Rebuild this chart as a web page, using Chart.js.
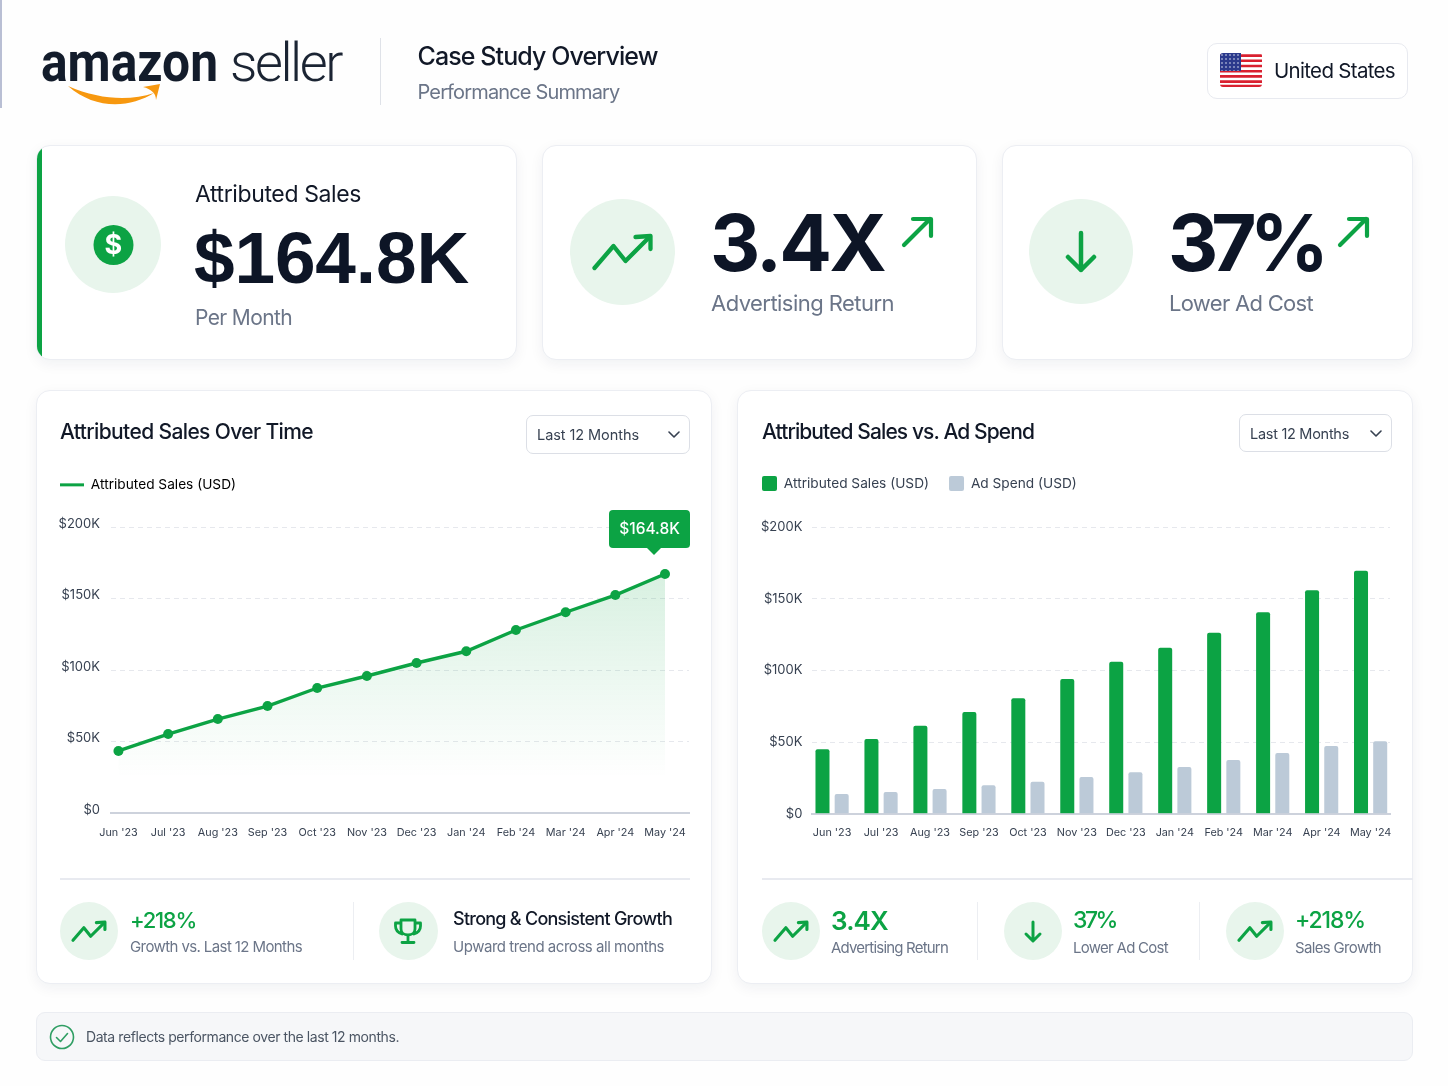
<!DOCTYPE html>
<html><head><meta charset="utf-8">
<script src="https://cdn.jsdelivr.net/npm/chart.js@4/dist/chart.umd.min.js"></script>
<style>
html,body{margin:0;padding:0;background:#fefefe}
#page{position:relative;width:1448px;height:1086px;overflow:hidden;background:#fefefe;font-family:Inter,sans-serif}
.t{position:absolute;white-space:nowrap;line-height:1.2;transform:translateY(-50%)}
.card{position:absolute;box-sizing:border-box;background:#fff;border:1px solid #eceef3;border-radius:14px;box-shadow:0 4px 14px rgba(25,35,70,.06)}
.c{position:absolute;border-radius:50%;background:#e8f5ec}
.r{position:absolute;background:#e8eaf0}
canvas{position:absolute}
svg{position:absolute;left:0;top:0;pointer-events:none}
</style></head><body><div id="page">
<div class="r" style="left:0;top:0;width:1.5px;height:108px;background:#b9bfd4"></div>
<div class="r" style="left:379.5px;top:38px;width:1.5px;height:67px;background:#dfe2e8"></div>
<div class="card" style="left:1206.500px;top:42.500px;width:201.500px;height:56.500px;border-radius:10px;box-shadow:none;border-color:#e8eaf0"></div>

<div class="card" style="left:35.500px;top:144.500px;width:481px;height:215.500px;overflow:hidden"><div style="position:absolute;left:-1px;top:-1px;width:6px;height:218px;background:#0ca344"></div></div>
<div class="card" style="left:541.500px;top:144.500px;width:435px;height:215.500px"></div>
<div class="card" style="left:1001.500px;top:144.500px;width:411.500px;height:215.500px"></div>
<div class="c" style="left:65px;top:196px;width:96px;height:97px"></div>
<div class="c" style="left:570px;top:199px;width:105px;height:106px"></div>
<div class="c" style="left:1029px;top:199px;width:104px;height:105px"></div>

<div class="card" style="left:35.500px;top:389.500px;width:676px;height:594.500px"></div>
<div class="card" style="left:736.500px;top:389.500px;width:676.500px;height:594.500px"></div>
<div class="card" style="left:526px;top:415px;width:164px;height:39px;border-radius:7px;box-shadow:none;border-color:#dcdfe6"></div>
<div class="card" style="left:1239px;top:414px;width:153px;height:38px;border-radius:7px;box-shadow:none;border-color:#dcdfe6"></div>

<canvas id="lineChart" width="640" height="382" style="left:50px;top:468px;width:640px;height:382px"></canvas>
<canvas id="barChart" width="653" height="394" style="left:742px;top:456px;width:653px;height:394px"></canvas>

<div class="r" style="left:60px;top:878px;width:630px;height:1.5px"></div>
<div class="r" style="left:762px;top:878px;width:651px;height:1.5px"></div>
<div class="r" style="left:353px;top:902px;width:1px;height:58px;background:#eceef2"></div>
<div class="r" style="left:977px;top:902px;width:1px;height:58px;background:#eceef2"></div>
<div class="r" style="left:1199px;top:902px;width:1px;height:58px;background:#eceef2"></div>
<div class="c" style="left:60px;top:902px;width:58px;height:58px"></div>
<div class="c" style="left:379px;top:902px;width:59px;height:58px"></div>
<div class="c" style="left:762px;top:902px;width:58px;height:58px"></div>
<div class="c" style="left:1004px;top:902px;width:58px;height:58px"></div>
<div class="c" style="left:1226px;top:902px;width:58px;height:58px"></div>

<div class="card" style="left:35.500px;top:1012px;width:1377.500px;height:49px;border-radius:9px;background:#f6f7f9;box-shadow:none;border-color:#ebedf2"></div>

<svg width="1448" height="1086" viewBox="0 0 1448 1086" fill="none" stroke-linecap="round" stroke-linejoin="round">
  <defs>
    <g id="trend"><path d="M0 32 L19 10 L31 25 L55 1"/><path d="M41 1 L56 0 L56 13"/></g>
    <clipPath id="flagClip"><rect x="1220" y="53" width="42" height="34" rx="3"/></clipPath>
    <pattern id="stars" width="4" height="4" patternUnits="userSpaceOnUse" x="1220" y="53"><circle cx="2" cy="2" r=".8" fill="#dfe3f2"/></pattern>
  </defs>
  <path d="M68 86 C95 110 130 108 154 93 C130 101 100 100 68 86Z" fill="#f7980f"/>
  <path d="M143 87 L160 84 L156 100 C156 93 151 89 143 87Z" fill="#f7980f"/>

  <g clip-path="url(#flagClip)">
    <rect x="1220" y="53" width="42" height="34" fill="#fff"/>
    <path d="M1220 55.6H1262M1220 60.8H1262M1220 66H1262M1220 71.2H1262M1220 76.4H1262M1220 81.6H1262M1220 86H1262" stroke="#d9202f" stroke-width="2.6" stroke-linecap="butt"/>
    <rect x="1220" y="53" width="21" height="18" fill="#2b3a8c"/>
    <rect x="1220" y="53" width="21" height="18" fill="url(#stars)"/>
  </g>

  <g stroke="#0ca344">
    <use href="#trend" transform="translate(594.5 236)" stroke-width="4.300"/>
    <path d="M1081 233V270M1068 257L1081 270L1094 257" stroke-width="4.500"/>
    <path d="M904 245L930 219M913 219H931V236" stroke-width="4.200"/>
    <path d="M1340 245L1366 219M1349 219H1367V236" stroke-width="4.200"/>
    <g stroke-width="5.500"><use href="#trend" transform="translate(73 922) scale(.57)"/></g>
    <g stroke-width="5.500"><use href="#trend" transform="translate(775 922) scale(.57)"/></g>
    <g stroke-width="5.500"><use href="#trend" transform="translate(1239 922) scale(.57)"/></g>
    <path d="M1033 922V940M1026 934L1033 941L1040 934" stroke-width="3"/>
    <path d="M401 920H415V929C415 937 401 937 401 929ZM401 923H395.500V926C395.500 931 399 933 402 934M415 923H420.500V926C420.500 931 417 933 414 934M408 936V942M402 942.500H414" stroke-width="2.800"/>
  </g>
  <circle cx="113.500" cy="245" r="20" fill="#0ca344"/>
  <circle cx="62" cy="1037" r="11.500" stroke="#2f9e63" stroke-width="1.600"/>
  <path d="M56.500 1037.500L60.500 1041.500L67.500 1033.500" stroke="#2f9e63" stroke-width="1.600"/>
  <path d="M669 432L674 437L679 432M1371 431L1376 436L1381 431" stroke="#374151" stroke-width="1.600"/>
</svg>
</div>
<script>
// ---- chart data (thousands of USD) ----
const categories = ["Jun '23","Jul '23","Aug '23","Sep '23","Oct '23","Nov '23","Dec '23","Jan '24","Feb '24","Mar '24","Apr '24","May '24"];
const lineSales = [43.4,55.2,65.7,74.8,87.4,95.8,104.9,113.1,128,140.4,152.4,167.1];
const barSales = [44.9,52.1,61.4,70.9,80.5,94,106,115.8,126.3,140.5,155.8,169.5];
const barSpend = [13.7,15.1,17.3,19.8,22.3,25.6,28.9,32.6,37.5,42.3,47.2,50.5];
const yTicks = [0,50,100,150,200];
const lineSeriesName = "Attributed Sales (USD)";
const spendSeriesName = "Ad Spend (USD)";
const peakLabel = "$164.8K";

// ---- page text: [text, x, centreY, size, weight, colour, targetWidth, family, squeeze] ----
const DARK="#111827", NAVY="#0d1526", GREY="#6b7588", GREEN="#0ca344";
const texts = [
 ["amazon",41,63,56,700,"#131c2b",177,"Roboto",true],
 ["seller",230,63,54,300,"#1b2433",111,"Roboto"],
 ["Case Study Overview",417.5,56,25,500,DARK,240],
 ["Performance Summary",417.5,92,20,400,GREY,202],
 ["United States",1274,71,20.5,400,DARK,121],
 ["Attributed Sales",195,195,23,400,DARK,166],
 ["$164.8K",194,258,73,700,NAVY,275,"'Liberation Sans'"],
 ["Per Month",195,318,21,400,GREY,97],
 ["3.4X",710,243,78,700,NAVY,174],
 ["Advertising Return",711,303,22,400,GREY,183],
 ["37%",1168,243,78,700,NAVY,154],
 ["Lower Ad Cost",1169,303,22,400,GREY,144],
 ["Attributed Sales Over Time",60,432,21,500,DARK,253],
 ["Attributed Sales vs. Ad Spend",762,432,21,500,DARK,272],
 ["Last 12 Months",537,435,14.5,400,"#374151",102],
 ["Last 12 Months",1250,433.5,14.5,400,"#374151",99],
 ["+218%",130,920,22,500,GREEN,66],
 ["Growth vs. Last 12 Months",130,947,15,400,GREY,172],
 ["Strong & Consistent Growth",453,919,18,500,DARK,219],
 ["Upward trend across all months",453,947,15,400,GREY,211],
 ["3.4X",831,921,26,600,GREEN,57],
 ["Advertising Return",831,948,15,400,GREY,117],
 ["37%",1073,921,23,500,GREEN,43],
 ["Lower Ad Cost",1073,948,15,400,GREY,95],
 ["+218%",1295,921,23,500,GREEN,70],
 ["Sales Growth",1295,948,15,400,GREY,86],
 ["Data reflects performance over the last 12 months.",86,1037,14,400,"#4b5563",313],
 ["$",104.5,245,27,700,"#ffffff",18]
];
const page=document.getElementById("page");
texts.forEach(([s,x,y,size,w,col,target,fam,squeeze])=>{
  const d=document.createElement("div");d.className="t";d.textContent=s;
  const family=fam||"Inter";
  d.style.cssText=`left:${x}px;top:${y}px;font-size:${size}px;font-weight:${w};color:${col};font-family:${family},sans-serif`;
  page.appendChild(d);
  const measured=d.getBoundingClientRect().width;
  if(squeeze){d.style.transformOrigin="left center";d.style.transform=`translateY(-50%) scaleX(${target/measured})`;}
  else d.style.letterSpacing=((target-measured)/s.length)+"px";
});

// ---- charts ----
const INK="#374151";
const FONT="Inter, sans-serif";
const toXY=a=>a.map((v,i)=>({x:i,y:v}));
const legendHeight=h=>({id:"legendHeight",beforeInit(c){const f=c.legend.fit;c.legend.fit=function(){f.call(this);this.height=h;};}});
const xScale=(min,max,h)=>({type:"linear",min,max,bounds:"data",offset:false,
  afterBuildTicks(s){s.ticks=categories.map((_,i)=>({value:i}));},
  afterFit(s){s.height=h;s.paddingLeft=0;s.paddingRight=0;},
  ticks:{callback:v=>categories[v],autoSkip:false,maxRotation:0,color:INK,font:{family:FONT,size:10.8},padding:13},
  grid:{display:false,drawTicks:false},
  border:{display:true,color:"#cdd2dc",width:2}});
const yScale=(w,pad,shift)=>({min:0,max:200,
  afterBuildTicks(s){s.ticks=yTicks.map(v=>({value:v}));},
  afterFit(s){s.width=w;},
  ticks:{callback:v=>v===0?"$0":"$"+v+"K",color:INK,font:{family:FONT,size:13},padding:pad,labelOffset:shift},
  grid:{color:"#e6e8ed",lineWidth:1,drawTicks:false},
  border:{display:false,dash:[5,4]}});

const peakBubble={id:"peakBubble",afterDraw(c){
  const p=c.getDatasetMeta(0).data[lineSales.length-1],g=c.ctx;
  const l=p.x-56,r=p.x+25,t=p.y-64,b=p.y-26,tipX=p.x-11;
  g.save();g.fillStyle="#0ca344";g.beginPath();g.roundRect(l,t,r-l,b-t,4);g.fill();
  g.beginPath();g.moveTo(tipX-7,b);g.lineTo(tipX,p.y-19);g.lineTo(tipX+7,b);g.closePath();g.fill();
  g.fillStyle="#fff";g.font="500 15.5px "+FONT;g.textAlign="center";g.textBaseline="middle";
  g.fillText(peakLabel,(l+r)/2,(t+b)/2);g.restore();
}};

new Chart(document.getElementById("lineChart"),{type:"line",
  data:{datasets:[{label:lineSeriesName,data:toXY(lineSales),borderColor:"#0ca344",borderWidth:3.4,tension:0,
    pointRadius:5,pointBackgroundColor:"#0ca344",pointBorderColor:"#0ca344",pointBorderWidth:0,fill:"origin",clip:false,
    backgroundColor(ctx){const a=ctx.chart.chartArea;if(!a)return"transparent";
      const g=ctx.chart.ctx.createLinearGradient(0,a.top+47,0,a.bottom-36);
      g.addColorStop(0,"rgba(12,163,68,.16)");g.addColorStop(1,"rgba(12,163,68,0)");return g;}}]},
  options:{responsive:false,animation:false,devicePixelRatio:1,layout:{autoPadding:false,padding:{right:1}},
    scales:{x:xScale(-0.15,11.483,37),y:yScale(61,11,-3)},
    plugins:{tooltip:{enabled:false},legend:{display:true,align:"start",
      labels:{boxWidth:24,boxHeight:3,padding:10,color:INK,font:{family:FONT,size:13.7},
        generateLabels:c=>[{text:c.data.datasets[0].label,fillStyle:"#0ca344",strokeStyle:"#0ca344",lineWidth:0,datasetIndex:0}]}}}},
  plugins:[legendHeight(59),peakBubble]});

new Chart(document.getElementById("barChart"),{type:"bar",
  data:{datasets:[
    {label:lineSeriesName,data:toXY(barSales),backgroundColor:"#0ca344",borderRadius:2,categoryPercentage:.784,barPercentage:.73},
    {label:spendSeriesName,data:toXY(barSpend),backgroundColor:"#bccad8",borderRadius:2,categoryPercentage:.784,barPercentage:.73}]},
  options:{responsive:false,animation:false,devicePixelRatio:1,layout:{autoPadding:false,padding:{right:5}},
    scales:{x:xScale(-0.402,11.396,36.3),y:yScale(70.4,10,0)},
    plugins:{tooltip:{enabled:false},legend:{display:true,align:"start",
      labels:{boxWidth:15,boxHeight:15,padding:20,useBorderRadius:true,borderRadius:2,color:INK,font:{family:FONT,size:13.7}}}}},
  plugins:[legendHeight(71)]});
</script></body></html>
